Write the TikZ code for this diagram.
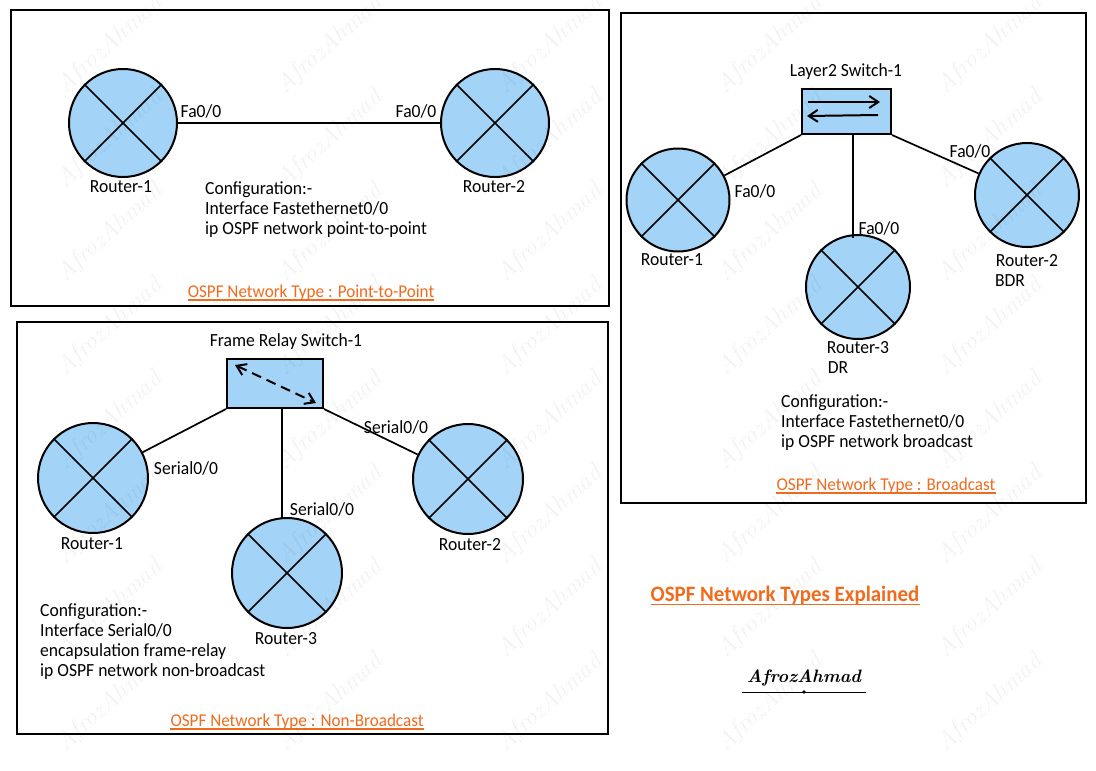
\documentclass[tikz,border=0pt]{standalone}
\usepackage{fontspec}
\newfontfamily\handfont[FakeStretch=0.95]{Carlito}
\usetikzlibrary{arrows.meta}
\definecolor{routerblue}{HTML}{A3D4F8}
\definecolor{titleorange}{HTML}{F26B1D}
\tikzset{
	panel/.style={draw,line width=1.7pt},
	router/.style={circle,draw,line width=2pt,fill=routerblue,inner sep=0pt},
	switchbox/.style={rectangle,draw,line width=2pt,fill=routerblue,inner sep=0pt},
	link/.style={line width=1.7pt},
	swarrow/.style={line width=2pt,-{Straight Barb[length=9pt,width=12pt]}},
	lbl/.style={font=\handfont\fontsize{18.5}{20}\selectfont,inner sep=0pt},
	conf/.style={lbl,align=left,anchor=north west},
	ttl/.style={font=\handfont\fontsize{18}{20}\selectfont,text=titleorange,inner sep=0pt},
	ttlline/.style={draw=titleorange,line width=1.3pt},
	mark text/.style={font=\itshape\fontsize{25}{25}\selectfont,text=black,opacity=.05,rotate=42,inner sep=0pt}
}
\newcommand{\crossrouter}[1]{\draw[link] (#1.45) -- (#1.225) (#1.135) -- (#1.315);}
\newcommand{\ttlrule}[1]{\draw[ttlline] ([yshift=1pt]#1.south west) -- ([yshift=1pt]#1.south east);}
\begin{document}
\begin{tikzpicture}[x=1pt,y=-1pt]
	\useasboundingbox (0,0) rectangle (1096,771);
	\fill[white] (0,0) rectangle (1096,771);
	% panels
	\draw[panel] (11,10) rectangle (609,306);
	\draw[panel] (17,322) rectangle (608,734);
	\draw[panel] (621,13) rectangle (1086,503);

	% Point-to-Point
	\node[router,minimum size=108pt] (pp1) at (123,123) {};
	\node[router,minimum size=108pt] (pp2) at (495,123) {};
	\crossrouter{pp1}
	\crossrouter{pp2}
	\draw[link] (pp1) -- (pp2);
	\node[lbl] (ppfa1) at (201,111) {Fa0/0};
	\node[lbl] (ppfa2) at (416,111) {Fa0/0};
	\node[lbl] (ppname1) at (121,187) {Router-1};
	\node[lbl] (ppname2) at (494,187) {Router-2};
	\node[conf] (ppconf) at (205,182) {Configuration:-\\Interface Fastethernet0/0\\ip OSPF network point-to-point};
	\node[ttl] (pptitle) at (311,293) {OSPF Network Type : Point-to-Point};
	\ttlrule{pptitle}

	% Broadcast
	\node[switchbox,minimum width=89pt,minimum height=45pt] (l2sw) at (846.5,111.5) {};
	\node[lbl] (l2name) at (846,72) {Layer2 Switch-1};
	\coordinate (l2a) at (808,102);
	\coordinate (l2b) at (880,102);
	\coordinate (l2c) at (878,115);
	\coordinate (l2d) at (807,116);
	\draw[swarrow] (l2a) -- (l2b);
	\draw[swarrow] (l2c) -- (l2d);
	\node[router,minimum size=103pt] (br1) at (678,200) {};
	\node[router,minimum size=104pt] (br2) at (1027,195) {};
	\node[router,minimum size=104pt] (br3) at (858,287) {};
	\crossrouter{br1}
	\crossrouter{br2}
	\crossrouter{br3}
	\draw[link] (l2sw.south west) -- (br1);
	\draw[link] (l2sw.south east) -- (br2);
	\coordinate (l2s) at (853,134);
	\draw[link] (l2s) -- (853,238);
	\node[lbl] (brfa1) at (755,191) {Fa0/0};
	\node[lbl] (brfa2) at (970,151) {Fa0/0};
	\node[lbl] (brfa3) at (879,228) {Fa0/0};
	\node[lbl] (brname1) at (672,260) {Router-1};
	\node[lbl] (brname2) at (1027,261) {Router-2};
	\node[lbl] (brbdr) at (1010,281) {BDR};
	\node[lbl] (brname3) at (858,348) {Router-3};
	\node[lbl] (brdr) at (838,368) {DR};
	\node[conf] (brconf) at (781,395) {Configuration:-\\Interface Fastethernet0/0\\ip OSPF network broadcast};
	\node[ttl] (brtitle) at (886,486) {OSPF Network Type : Broadcast};
	\ttlrule{brtitle}

	% Non-Broadcast
	\node[switchbox,minimum width=96pt,minimum height=49pt] (frsw) at (275,383.5) {};
	\node[lbl] (frname) at (286,342) {Frame Relay Switch-1};
	\coordinate (fra) at (235,365);
	\coordinate (frb) at (316,403);
	\draw[swarrow,{Straight Barb[length=9pt,width=12pt]}-{Straight Barb[length=9pt,width=12pt]},dash pattern=on 10pt off 6pt] (fra) -- (frb);
	\node[router,minimum size=110pt] (nb1) at (93,478) {};
	\node[router,minimum size=110pt] (nb2) at (468,479) {};
	\node[router,minimum size=110pt] (nb3) at (287,573) {};
	\crossrouter{nb1}
	\crossrouter{nb2}
	\crossrouter{nb3}
	\draw[link] (frsw.south west) -- (nb1);
	\draw[link] (frsw.south east) -- (nb2);
	\coordinate (frs) at (282,408);
	\draw[link] (frs) -- (282,518);
	\node[lbl] (nbs1) at (186,468) {Serial0/0};
	\node[lbl] (nbs2) at (396,427) {Serial0/0};
	\node[lbl] (nbs3) at (322,509) {Serial0/0};
	\node[lbl] (nbname1) at (92,544) {Router-1};
	\node[lbl] (nbname2) at (470,545) {Router-2};
	\node[lbl] (nbname3) at (286,639) {Router-3};
	\node[conf] (nbconf) at (40,604) {Configuration:-\\Interface Serial0/0\\encapsulation frame-relay\\ip OSPF network non-broadcast};
	\node[ttl] (nbtitle) at (297,722) {OSPF Network Type : Non-Broadcast};
	\ttlrule{nbtitle}

	% main title and signature
	\node[ttl,font=\handfont\fontsize{22}{24}\selectfont\bfseries] (maintitle) at (785,596) {OSPF Network Types Explained};
	\ttlrule{maintitle}
	\node[font=\itshape\bfseries\fontsize{18}{24}\selectfont,inner sep=0pt] (sign) at (804,678) {AfrozAhmad};
	\coordinate (signl) at (742,692);
	\coordinate (signr) at (866,692);
	\draw[line width=.6pt] (signl) -- (signr);
	\fill (804,692) circle (1.8pt);

	% watermark
	\foreach \x in {110,330,550,770,990}
		\foreach \y in {45,139,233,327,421,515,609,703}
			\node[mark text] (wm\x\y) at (\x,\y) {AfrozAhmad};
\end{tikzpicture}
\end{document}
